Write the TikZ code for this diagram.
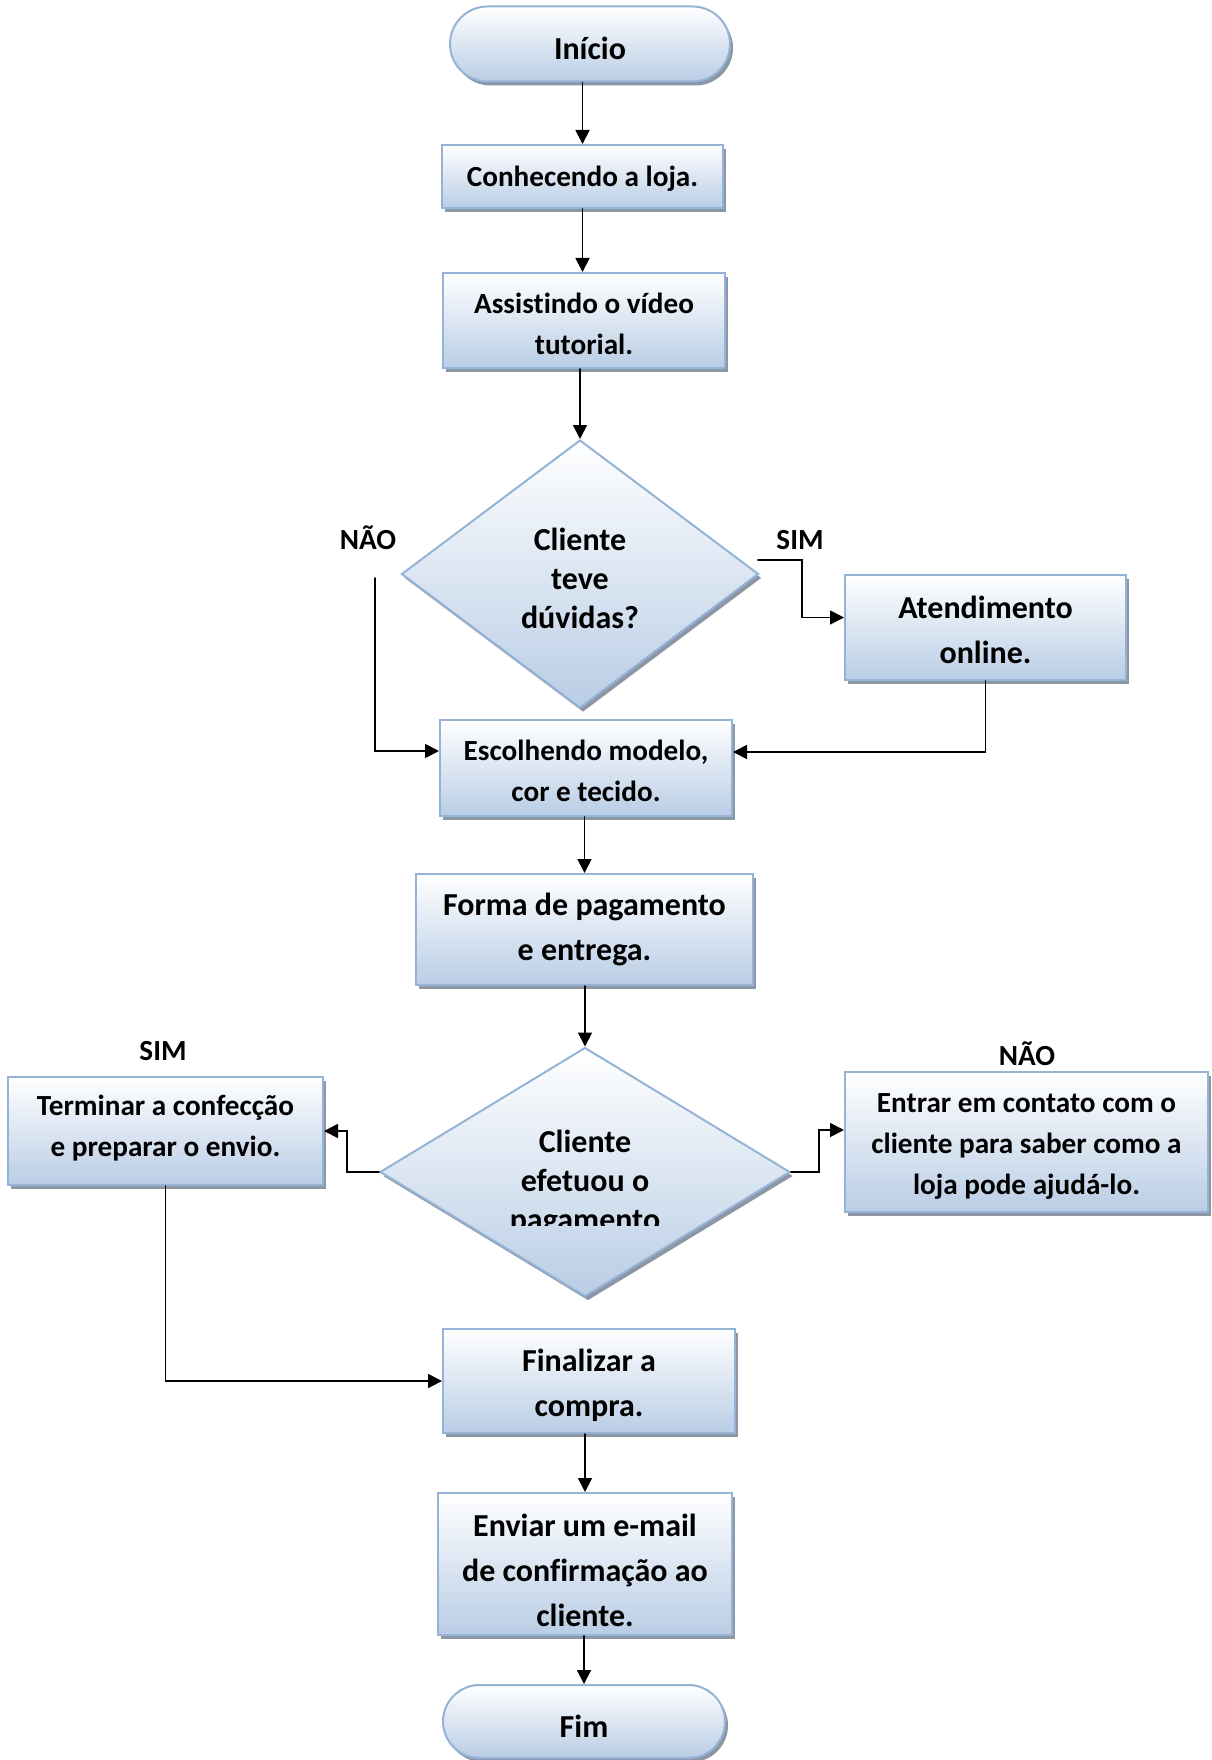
\documentclass[tikz,border=0pt]{standalone}
\usepackage{fontspec}
\setmainfont{Carlito}[Ligatures=NoCommon]
\usetikzlibrary{arrows.meta,shapes.geometric,shapes.misc,shadows}
\definecolor{boxedge}{RGB}{149,179,215}
\definecolor{boxfill}{RGB}{185,205,229}
\definecolor{boxshade}{RGB}{140,150,165}
\newcommand{\toppad}[1]{\rule{0pt}{#1}}
\newcommand{\botpad}[1]{\rule[-#1]{0pt}{0pt}}

\begin{document}
\begin{tikzpicture}[x=0.5pt,y=-0.5pt,>={Triangle[length=7pt,width=7pt]},line cap=round,
  txtsm/.style={font=\fontsize{14.6}{20.5}\selectfont\bfseries},
  txtlg/.style={font=\fontsize{16}{22.5}\selectfont\bfseries},
  tag/.style={font=\fontsize{14.6}{20.5}\selectfont\bfseries,anchor=base},
  base/.style={draw=boxedge,line width=1pt,top color=white,bottom color=boxfill,
    drop shadow={shadow xshift=1.5pt,shadow yshift=-2pt,fill=boxshade,opacity=1},
    align=center,inner sep=0pt},
  box/.style={base,rectangle},
  term/.style={base,rounded rectangle,txtlg},
  decision/.style={base,diamond,font=\fontsize{16}{19.5}\selectfont\bfseries},
  flow/.style={->,line width=0.9pt}]
\useasboundingbox (0,0) rectangle (1211,1760);
\node[term,minimum width=140pt,minimum height=37.5pt] (inicio) at (590,44) {\toppad{15.5pt}Início};
\node[box,txtsm,minimum width=140.5pt,minimum height=31.5pt] (conhecendo) at (582.5,176.5) {\toppad{12pt}Conhecendo a loja.};
\node[box,txtsm,minimum width=141pt,minimum height=47.5pt] (assistindo) at (584,320.5) {\toppad{14pt}Assistindo o vídeo\\tutorial.};
\node[decision,minimum width=178.5pt,minimum height=134pt] (duvidas) at (580,574) {\toppad{15.5pt}Cliente\\teve\\dúvidas?};
\node[box,txtlg,minimum width=140.5pt,minimum height=52.5pt] (atendimento) at (985.5,627.5) {\toppad{13.2pt}Atendimento\\online.};
\node[box,txtsm,minimum width=146pt,minimum height=48pt] (escolhendo) at (586,768) {\toppad{12.9pt}Escolhendo modelo,\\cor e tecido.};
\node[box,txtlg,minimum width=168.5pt,minimum height=55.5pt] (forma) at (584.5,929.5) {Forma de pagamento\\e entrega.};
\node[decision,minimum width=205pt,minimum height=124.5pt] (pagou) at (585,1172) {};
\begin{scope}
\clip (380,1040) rectangle (790,1225);
\node[align=center,inner sep=0pt,font=\fontsize{16}{19.5}\selectfont\bfseries] (pagoutxt) at (585,1183) {Cliente\\efetuou o\\pagamento};
\end{scope}
\node[box,txtsm,minimum width=157.5pt,minimum height=54pt] (terminar) at (165.5,1131) {Terminar a confecção\\e preparar o envio.\botpad{5.5pt}};
\node[box,txtsm,minimum width=181.5pt,minimum height=70pt] (entrar) at (1026.5,1142) {\toppad{14pt}Entrar em contato com o\\cliente para saber como a\\loja pode ajudá-lo.};
\node[box,txtlg,minimum width=146pt,minimum height=52pt] (finalizar) at (589,1381) {\toppad{15.5pt}Finalizar a\\compra.};
\node[box,txtlg,minimum width=147pt,minimum height=71pt] (enviar) at (585,1564) {\toppad{17.7pt}Enviar um e-mail\\de confirmação ao\\cliente.};
\node[term,minimum width=141pt,minimum height=36.5pt] (fim) at (584,1721.5) {\toppad{15.5pt}Fim};
\node[tag] (nao1) at (368,549) {NÃO};
\node[tag] (sim1) at (800,549) {SIM};
\node[tag] (sim2) at (163,1060) {SIM};
\node[tag] (nao2) at (1027,1065) {NÃO};
\coordinate (naostart) at (375,578);
\coordinate (simstart) at (758,560);
\draw[flow] (inicio.south -| conhecendo.north) -- (conhecendo.north);
\draw[flow] (conhecendo.south) -- (conhecendo.south |- assistindo.north);
\draw[flow] (assistindo.south -| duvidas.north) -- (duvidas.north);
\draw[flow] (naostart) |- ([yshift=8.5pt]escolhendo.west);
\draw[flow] (simstart) -- ++(44,0) |- ([yshift=5pt]atendimento.west);
\draw[flow] (atendimento.south) |- ([yshift=8pt]escolhendo.east);
\draw[flow] (escolhendo.south -| forma.north) -- (forma.north);
\draw[flow] (forma.south -| pagou.north) -- (pagou.north);
\draw[flow] (pagou.west) -- ++(-32,0) |- (terminar.east);
\draw[flow] (pagou.east) -- ++(28,0) |- ([yshift=6pt]entrar.west);
\draw[flow] (terminar.south) |- (finalizar.west);
\draw[flow] (finalizar.south -| enviar.north) -- (enviar.north);
\draw[flow] (enviar.south -| fim.north) -- (fim.north);
\end{tikzpicture}
\end{document}
